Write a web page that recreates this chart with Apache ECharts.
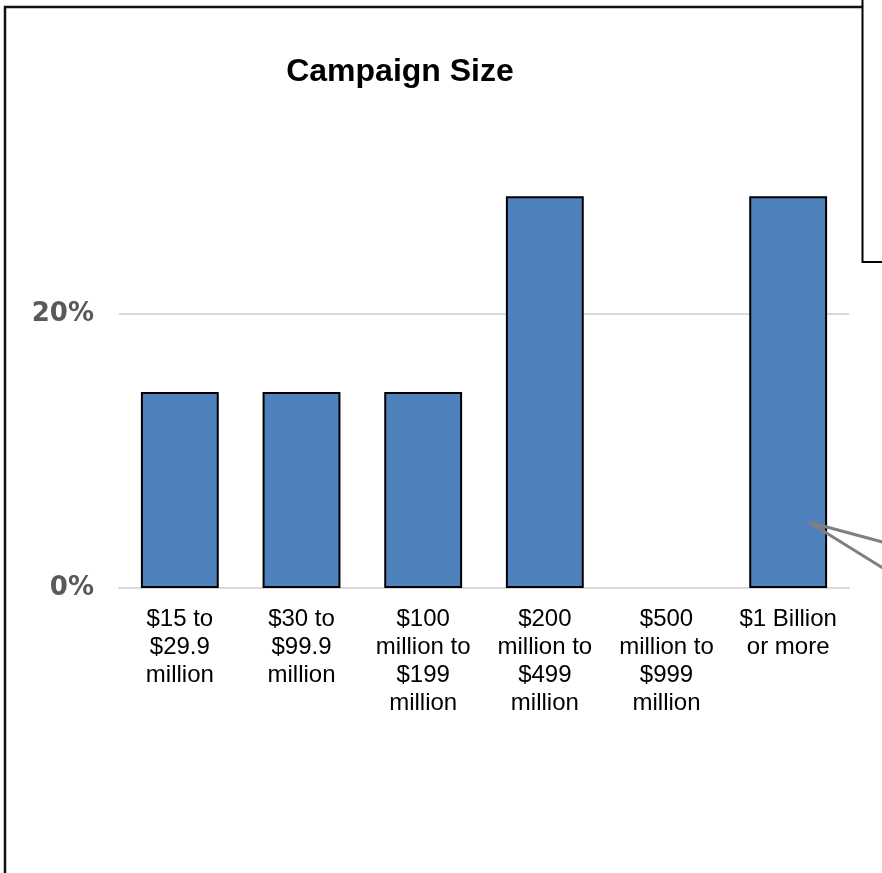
<!DOCTYPE html>
<html>
<head>
<meta charset="utf-8">
<script src="https://cdn.jsdelivr.net/npm/echarts@6/dist/echarts.min.js"></script>
<style>
  html, body { margin: 0; padding: 0; background: #ffffff; }
  #chart { width: 882px; height: 873px; }
</style>
</head>
<body>
<div id="chart"></div>
<script>
// Campaign size ranges (x categories)
const categories = [
  '$15 to\n$29.9\nmillion',
  '$30 to\n$99.9\nmillion',
  '$100\nmillion to\n$199\nmillion',
  '$200\nmillion to\n$499\nmillion',
  '$500\nmillion to\n$999\nmillion',
  '$1 Billion\nor more'
];
// Share of campaigns in each range (%)
const shares = [14.3, 14.3, 14.3, 28.6, 0, 28.6];
// Y-axis labels that are shown
const shownTicks = [0, 20];

const chart = echarts.init(document.getElementById('chart'), null, { renderer: 'canvas' });

// An empty range gets no outline so nothing is drawn on the baseline
const barData = shares.map(v => v === 0
  ? { value: v, itemStyle: { borderWidth: 0 } }
  : v);

const option = {
  animation: false,
  backgroundColor: '#ffffff',
  grid: { left: 119, right: 33, top: 177, bottom: 285, containLabel: false },
  xAxis: {
    type: 'category',
    data: categories,
    axisLine: { show: true, lineStyle: { color: '#d9d9d9', width: 2 } },
    axisTick: { show: false },
    axisLabel: {
      interval: 0,
      margin: 17,
      fontFamily: '"Liberation Sans", Arial, sans-serif',
      fontSize: 24,
      lineHeight: 28,
      color: '#000000',
      align: 'center'
    }
  },
  yAxis: {
    type: 'value',
    min: 0,
    max: 30,
    interval: 10,
    axisLine: { show: false },
    axisTick: { show: false },
    splitLine: {
      show: true,
      lineStyle: { color: ['#d9d9d9', 'rgba(0,0,0,0)', '#d9d9d9', 'rgba(0,0,0,0)'], width: 2 }
    },
    axisLabel: {
      margin: 25,
      fontFamily: '"DejaVu Sans", Verdana, sans-serif',
      fontWeight: 'bold',
      fontSize: 26,
      color: '#595959',
      formatter: v => shownTicks.indexOf(v) >= 0 ? v + '%' : ''
    }
  },
  series: [{
    type: 'bar',
    data: barData,
    barWidth: '64%',
    itemStyle: { color: '#4f81bd', borderColor: '#000000', borderWidth: 2 }
  }]
};
chart.setOption(option);

// Frame, title and the callout box drawn on top of the plot
const tip = chart.convertToPixel({ seriesIndex: 0 }, [5, 4.8]);
const tipX = tip[0] + 21, tipY = tip[1];
chart.setOption({
  graphic: [
    {
      type: 'rect', z: 50, silent: true,
      shape: { x: 5, y: 7, width: 1000, height: 1000 },
      style: { fill: 'none', stroke: '#111111', lineWidth: 2.5 }
    },
    {
      type: 'text', z: 60, silent: true,
      x: 400, y: 56,
      style: {
        text: 'Campaign Size',
        font: 'bold 32px "Liberation Sans", Arial, sans-serif',
        fill: '#000000',
        align: 'center',
        verticalAlign: 'top'
      }
    },
    {
      type: 'line', z: 70, silent: true,
      shape: { x1: tipX, y1: tipY, x2: tipX + 100, y2: tipY + 27 },
      style: { stroke: '#808080', lineWidth: 3 }
    },
    {
      type: 'line', z: 70, silent: true,
      shape: { x1: tipX, y1: tipY, x2: tipX + 100, y2: tipY + 62 },
      style: { stroke: '#808080', lineWidth: 3 }
    },
    {
      type: 'rect', z: 80, silent: true,
      shape: { x: 862.5, y: -10, width: 100, height: 272 },
      style: { fill: '#ffffff', stroke: '#000000', lineWidth: 2 }
    }
  ]
});
</script>
</body>
</html>
